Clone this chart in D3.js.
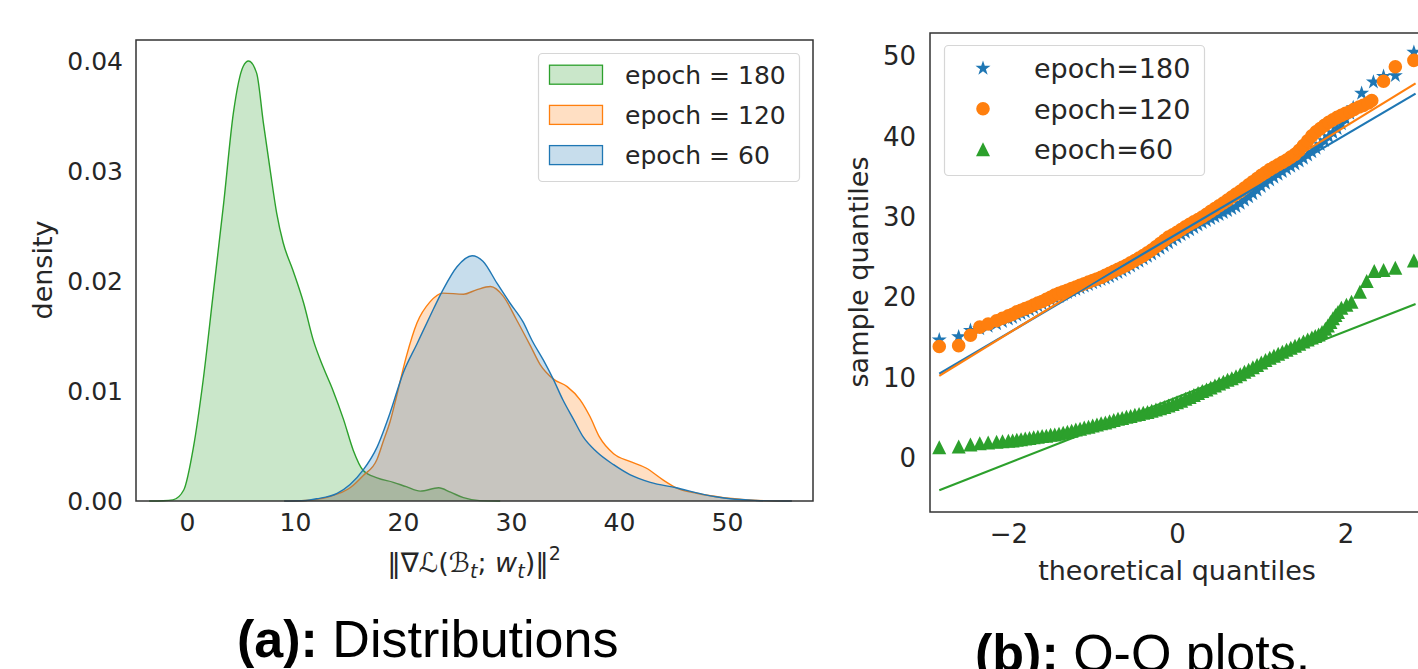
<!DOCTYPE html>
<html>
<head>
<meta charset="utf-8">
<script src="https://cdn.jsdelivr.net/npm/d3@7"></script>
<style>
  body { margin: 0; background: #fff; }
  svg { display: block; font-family: "DejaVu Sans", sans-serif; }
</style>
</head>
<body>
<svg width="1418" height="669"></svg>
<script>
// ---- data ----
// (a) kde curves: [gradient norm, density]
var kde180 = [[-3.5,0],[-2.2,0.00002],[-1.3,0.0001],[-0.3,0.001],[0.6,0.0049],[1.5,0.011],[2.4,0.0186],[3.4,0.0271],[4.3,0.0353],[5.2,0.0395],[5.7,0.0400],[6.45,0.0389],[7.07,0.0344],[7.7,0.0301],[8.3,0.0262],[8.9,0.0235],[9.8,0.021],[10.8,0.018],[11.7,0.0146],[12.6,0.0122],[13.5,0.0101],[14.5,0.0074],[15.4,0.0046],[16.3,0.0028],[17.6,0.0021],[19.1,0.0017],[20.3,0.0013],[21.6,0.0009],[23.3,0.0012],[24.4,0.0008],[25.6,0.0003],[27.1,0.00003],[29,0]];
var kde120 = [[9,0],[11,0.00005],[13.2,0.0004],[15.1,0.0012],[16.3,0.0023],[17.6,0.0038],[18.2,0.0055],[18.8,0.0072],[19.4,0.0095],[20.3,0.0131],[21.3,0.0162],[22.5,0.0181],[23.7,0.0189],[25.6,0.0188],[26.8,0.0192],[28.1,0.0195],[29.3,0.0186],[30.5,0.0165],[31.8,0.0141],[32.7,0.0124],[33.9,0.0111],[35.2,0.0104],[36.4,0.0092],[37.3,0.0077],[38.2,0.0058],[39.5,0.0043],[41.0,0.0036],[42.5,0.003],[44.1,0.0019],[45.3,0.0012],[47.2,0.0007],[49.7,0.0003],[52.1,0.0001],[54.5,0],[56,0]];
var kde60 = [[9,0],[11,0.00005],[12.0,0.0002],[13.9,0.0007],[15.1,0.0015],[16.3,0.0028],[17.6,0.0049],[18.8,0.008],[20.0,0.0116],[21.3,0.0143],[22.5,0.0168],[23.7,0.0192],[25.0,0.0213],[26.4,0.0223],[27.4,0.0218],[28.7,0.0198],[29.9,0.018],[31.1,0.0163],[32.0,0.0145],[33.0,0.0128],[33.9,0.0111],[34.8,0.0092],[35.8,0.0074],[36.7,0.0058],[37.9,0.0045],[39.5,0.0033],[41.0,0.0024],[42.9,0.0017],[45.3,0.0012],[47.8,0.0006],[50.3,0.0002],[52.7,0.00005],[55.2,0],[56,0]];

// (b) q-q points: [theoretical quantile, sample quantile]
var qq180 = [[-2.82,14.7],[-2.59,15.1],[-2.45,15.9],[-2.34,16.1],[-2.24,16.4],[-2.14,16.7],[-2.07,17.0],
  [-2.0,17.3],[-1.95,17.5],[-1.9,17.8],[-1.85,18.0],[-1.8,18.2],[-1.75,18.45],[-1.7,18.7],[-1.65,18.95],[-1.6,19.2],[-1.55,19.45],
  [-1.5,19.7],[-1.45,19.9],[-1.4,20.1],[-1.35,20.35],[-1.3,20.6],[-1.25,20.8],[-1.2,21.0],[-1.15,21.2],[-1.1,21.4],[-1.05,21.6],
  [-1.0,21.8],[-0.95,22.0],[-0.9,22.2],[-0.85,22.4],[-0.8,22.6],[-0.75,22.85],[-0.7,23.1],[-0.65,23.35],[-0.6,23.6],[-0.55,23.9],
  [-0.5,24.2],[-0.45,24.5],[-0.4,24.8],[-0.35,25.1],[-0.3,25.4],[-0.25,25.75],[-0.2,26.1],[-0.15,26.45],[-0.1,26.8],[-0.05,27.15],
  [0.0,27.5],[0.05,27.8],[0.1,28.1],[0.15,28.4],[0.2,28.7],[0.25,29.0],[0.3,29.3],[0.35,29.55],[0.4,29.8],[0.45,30.05],
  [0.5,30.3],[0.55,30.55],[0.6,30.8],[0.65,31.05],[0.7,31.3],[0.75,31.7],[0.8,32.1],[0.85,32.5],[0.9,32.9],[0.95,33.35],
  [1.0,33.8],[1.05,34.2],[1.1,34.6],[1.15,34.95],[1.2,35.3],[1.25,35.65],[1.3,36.0],[1.35,36.3],[1.4,36.6],[1.45,36.95],
  [1.5,37.3],[1.55,37.7],[1.6,38.1],[1.65,38.55],[1.7,39.0],[1.75,39.5],[1.8,40.0],[1.85,40.5],[1.9,41.0],[1.95,41.6],
  [2.0,42.2],[2.05,42.9],[2.09,43.6],[2.19,45.4],[2.33,46.8],[2.45,47.5],[2.59,47.6],[2.81,50.5]];
var qq120 = [[-2.82,13.9],[-2.59,14.0],[-2.45,15.3],[-2.34,16.3],[-2.24,16.7],[-2.14,17.1],[-2.07,17.4],
  [-2.0,17.7],[-1.95,17.9],[-1.9,18.2],[-1.85,18.4],[-1.8,18.6],[-1.75,18.8],[-1.7,19.05],[-1.65,19.3],[-1.6,19.5],[-1.55,19.75],
  [-1.5,20.0],[-1.45,20.3],[-1.4,20.5],[-1.35,20.7],[-1.3,20.9],[-1.25,21.1],[-1.2,21.3],[-1.15,21.5],[-1.1,21.7],[-1.05,21.9],
  [-1.0,22.1],[-0.95,22.3],[-0.9,22.5],[-0.85,22.75],[-0.8,23.0],[-0.75,23.25],[-0.7,23.5],[-0.65,23.75],[-0.6,24.0],[-0.55,24.3],
  [-0.5,24.6],[-0.45,24.9],[-0.4,25.2],[-0.35,25.55],[-0.3,25.9],[-0.25,26.3],[-0.2,26.7],[-0.15,27.1],[-0.1,27.5],[-0.05,27.8],
  [0.0,28.1],[0.05,28.45],[0.1,28.8],[0.15,29.1],[0.2,29.4],[0.25,29.7],[0.3,30.0],[0.35,30.35],[0.4,30.7],[0.45,31.05],
  [0.5,31.4],[0.55,31.75],[0.6,32.1],[0.65,32.5],[0.7,32.85],[0.75,33.2],[0.8,33.6],[0.85,34.0],[0.9,34.4],[0.95,34.8],
  [1.0,35.2],[1.05,35.55],[1.1,35.9],[1.15,36.2],[1.2,36.5],[1.25,36.8],[1.3,37.1],[1.35,37.45],[1.4,37.8],[1.45,38.3],
  [1.5,38.9],[1.55,39.5],[1.6,40.1],[1.65,40.6],[1.7,41.0],[1.75,41.4],[1.8,41.8],[1.85,42.1],[1.9,42.4],[1.95,42.65],
  [2.0,42.9],[2.05,43.1],[2.1,43.4],[2.16,43.7],[2.21,43.9],[2.27,44.2],[2.31,44.5],[2.45,46.9],[2.59,48.7],[2.81,49.5]];
var qq60 = [[-2.82,1.35],[-2.59,1.45],[-2.45,1.7],[-2.34,1.85],[-2.24,1.95],[-2.14,2.05],[-2.07,2.1],
  [-2.0,2.15],[-1.95,2.2],[-1.9,2.3],[-1.85,2.35],[-1.8,2.45],[-1.75,2.5],[-1.7,2.6],[-1.65,2.65],[-1.6,2.75],[-1.55,2.8],
  [-1.5,2.9],[-1.45,2.95],[-1.4,3.05],[-1.35,3.15],[-1.3,3.3],[-1.25,3.4],[-1.2,3.55],[-1.15,3.65],[-1.1,3.8],[-1.05,3.9],
  [-1.0,4.05],[-0.95,4.2],[-0.9,4.35],[-0.85,4.45],[-0.8,4.6],[-0.75,4.75],[-0.7,4.9],[-0.65,5.0],[-0.6,5.15],[-0.55,5.25],
  [-0.5,5.4],[-0.45,5.5],[-0.4,5.65],[-0.35,5.75],[-0.3,5.9],[-0.25,6.05],[-0.2,6.2],[-0.15,6.35],[-0.1,6.55],[-0.05,6.75],
  [0.0,6.95],[0.05,7.15],[0.1,7.4],[0.15,7.6],[0.2,7.85],[0.25,8.1],[0.3,8.35],[0.35,8.55],[0.4,8.8],[0.45,9.05],
  [0.5,9.3],[0.55,9.5],[0.6,9.75],[0.65,9.95],[0.7,10.2],[0.75,10.45],[0.8,10.75],[0.85,11.0],[0.9,11.3],[0.95,11.6],
  [1.0,11.9],[1.05,12.2],[1.1,12.5],[1.15,12.75],[1.2,13.0],[1.25,13.25],[1.3,13.5],[1.35,13.75],[1.4,14.0],[1.45,14.25],
  [1.5,14.5],[1.55,14.75],[1.6,15.0],[1.64,15.2],[1.68,15.4],[1.72,15.7],[1.76,16.1],[1.79,16.5],[1.82,16.95],[1.85,17.4],
  [1.88,17.8],[1.91,18.2],[1.95,18.7],[2.01,19.1],[2.07,19.45],[2.17,20.7],[2.25,22.05],[2.34,23.3],[2.45,23.4],[2.59,23.7],[2.81,24.6]];

// least squares lines [slope, intercept], drawn between these quantiles
var fit180 = [6.17, 27.9];
var fit120 = [6.44, 28.4];
var fit60 = [4.1, 7.58];
var fitRange = [-2.82, 2.83];

var labelsA = ["epoch = 180", "epoch = 120", "epoch = 60"];
var labelsB = ["epoch=180", "epoch=120", "epoch=60"];
var xTicksA = [0, 10, 20, 30, 40, 50];
var yTicksA = [0, 0.01, 0.02, 0.03, 0.04];
var xTicksB = [-2, 0, 2];
var yTicksB = [0, 10, 20, 30, 40, 50];

var blue = "#1f77b4", orange = "#ff7f0e", green = "#2ca02c";
var ink = "#262626", spine = "#333333";

var svg = d3.select("svg");

// ================= (a) distributions =================
var xA = d3.scaleLinear().domain([-4.72, 57.96]).range([136, 813]);
var yA = d3.scaleLinear().domain([0, 0.04191]).range([501, 40]);

var gA = svg.append("g");
var kdes = [
  {data: kde180, color: green},
  {data: kde120, color: orange},
  {data: kde60, color: blue}
];
var area = d3.area()
  .x(function (d) { return xA(d[0]); })
  .y0(yA(0))
  .y1(function (d) { return yA(d[1]); })
  .curve(d3.curveMonotoneX);
var line = d3.line()
  .x(function (d) { return xA(d[0]); })
  .y(function (d) { return yA(d[1]); })
  .curve(d3.curveMonotoneX);

kdes.forEach(function (k) {
  gA.append("path").attr("d", area(k.data))
    .attr("fill", k.color).attr("fill-opacity", 0.25);
  gA.append("path").attr("d", line(k.data))
    .attr("fill", "none").attr("stroke", k.color).attr("stroke-width", 1.4);
});

var axA_x = gA.append("g").attr("transform", "translate(0,501)")
  .call(d3.axisBottom(xA).tickValues(xTicksA).tickSize(0).tickPadding(12));
var axA_y = gA.append("g").attr("transform", "translate(136,0)")
  .call(d3.axisLeft(yA).tickValues(yTicksA).tickFormat(d3.format(".2f")).tickSize(0).tickPadding(13));
[axA_x, axA_y].forEach(function (a) {
  a.select(".domain").remove();
  a.selectAll("text").attr("font-size", 25).attr("fill", ink).attr("font-family", "DejaVu Sans");
});

gA.append("rect").attr("x", 136).attr("y", 40).attr("width", 677).attr("height", 461)
  .attr("fill", "none").attr("stroke", spine).attr("stroke-width", 1.5);

gA.append("text").attr("transform", "translate(52,270) rotate(-90)")
  .attr("text-anchor", "middle").attr("font-size", 27).attr("fill", ink).text("density");

// x label: ‖∇ℒ(ℬ_t; w_t)‖²
var xl = gA.append("text").attr("x", 474).attr("y", 572).attr("text-anchor", "middle")
  .attr("font-size", 27).attr("fill", ink);
xl.append("tspan").text("\u2016\u2207\u2112(\u212C");
xl.append("tspan").attr("font-style", "italic").attr("font-size", 19).attr("dy", 6).text("t");
xl.append("tspan").attr("dy", -6).text("; ");
xl.append("tspan").attr("font-style", "italic").text("w");
xl.append("tspan").attr("font-style", "italic").attr("font-size", 19).attr("dy", 6).text("t");
xl.append("tspan").attr("dy", -6).text(")\u2016");
xl.append("tspan").attr("font-size", 19).attr("dy", -12).text("2");

// legend (a)
var legA = gA.append("g");
legA.append("rect").attr("x", 538.5).attr("y", 53.5).attr("width", 261).attr("height", 128).attr("rx", 4)
  .attr("fill", "#fff").attr("fill-opacity", 0.8).attr("stroke", "#d6d6d6").attr("stroke-width", 1.2);
[green, orange, blue].forEach(function (c, i) {
  var cy = 74.7 + i * 40.2;
  legA.append("rect").attr("x", 549.5).attr("y", cy - 9.5).attr("width", 53).attr("height", 19)
    .attr("fill", c).attr("fill-opacity", 0.25).attr("stroke", c).attr("stroke-width", 1.3);
  legA.append("text").attr("x", 625).attr("y", cy).attr("dy", "0.36em")
    .attr("font-size", 25).attr("fill", ink).text(labelsA[i]);
});

svg.append("text").attr("x", 237).attr("y", 657).attr("font-family", "Liberation Sans, Arial, sans-serif")
  .attr("font-size", 52).attr("fill", "#000")
  .call(function (t) {
    t.append("tspan").attr("font-weight", "bold").text("(a):");
    t.append("tspan").text(" Distributions");
  });

// ================= (b) Q-Q plots =================
var xB = d3.scaleLinear().domain([-2.93, 2.93]).range([930, 1424]);
var yB = d3.scaleLinear().domain([-6.7, 52.9]).range([512, 33]);

var gB = svg.append("g");
gB.append("clipPath").attr("id", "clipB").append("rect")
  .attr("x", 930).attr("y", 33).attr("width", 494).attr("height", 479);
var plotB = gB.append("g").attr("clip-path", "url(#clipB)");

var triangle = {
  draw: function (ctx, size) {
    var h = Math.sqrt(size);
    ctx.moveTo(0, -h / 2);
    ctx.lineTo(h / 2, h / 2);
    ctx.lineTo(-h / 2, h / 2);
    ctx.closePath();
  }
};
var starPath = d3.symbol().type(d3.symbolStar).size(70)();
var circlePath = d3.symbol().type(d3.symbolCircle).size(Math.PI * 6.8 * 6.8)();
var triPath = d3.symbol().type(triangle).size(14 * 14)();

var series = [
  {data: qq180, fit: fit180, color: blue, path: starPath},
  {data: qq120, fit: fit120, color: orange, path: circlePath},
  {data: qq60, fit: fit60, color: green, path: triPath}
];

series.forEach(function (s) {
  plotB.append("g").selectAll("path").data(s.data).enter().append("path")
    .attr("d", s.path)
    .attr("transform", function (d) { return "translate(" + xB(d[0]) + "," + yB(d[1]) + ")"; })
    .attr("fill", s.color);
});
series.forEach(function (s) {
  plotB.append("line")
    .attr("x1", xB(fitRange[0])).attr("y1", yB(s.fit[0] * fitRange[0] + s.fit[1]))
    .attr("x2", xB(fitRange[1])).attr("y2", yB(s.fit[0] * fitRange[1] + s.fit[1]))
    .attr("stroke", s.color).attr("stroke-width", 2.2);
});

var axB_x = gB.append("g").attr("transform", "translate(0,512)")
  .call(d3.axisBottom(xB).tickValues(xTicksB).tickFormat(d3.format("d")).tickSize(0).tickPadding(13));
var axB_y = gB.append("g").attr("transform", "translate(930,0)")
  .call(d3.axisLeft(yB).tickValues(yTicksB).tickFormat(d3.format("d")).tickSize(0).tickPadding(14));
[axB_x, axB_y].forEach(function (a) {
  a.select(".domain").remove();
  a.selectAll("text").attr("font-size", 26).attr("fill", ink).attr("font-family", "DejaVu Sans");
});

gB.append("rect").attr("x", 930).attr("y", 33).attr("width", 494).attr("height", 479)
  .attr("fill", "none").attr("stroke", spine).attr("stroke-width", 1.5);

gB.append("text").attr("transform", "translate(868,272) rotate(-90)")
  .attr("text-anchor", "middle").attr("font-size", 27).attr("fill", ink).text("sample quantiles");
gB.append("text").attr("x", 1177).attr("y", 580).attr("text-anchor", "middle")
  .attr("font-size", 27).attr("fill", ink).text("theoretical quantiles");

// legend (b)
var legB = gB.append("g");
legB.append("rect").attr("x", 944.5).attr("y", 45.5).attr("width", 260).attr("height", 130).attr("rx", 4)
  .attr("fill", "#fff").attr("fill-opacity", 0.8).attr("stroke", "#d6d6d6").attr("stroke-width", 1.2);
series.forEach(function (s, i) {
  var cy = 68.3 + i * 40.5;
  legB.append("path").attr("d", s.path).attr("transform", "translate(983," + cy + ")").attr("fill", s.color);
  legB.append("text").attr("x", 1034).attr("y", cy).attr("dy", "0.36em")
    .attr("font-size", 27).attr("fill", ink).text(labelsB[i]);
});

svg.append("text").attr("x", 975).attr("y", 671).attr("font-family", "Liberation Sans, Arial, sans-serif")
  .attr("font-size", 52).attr("fill", "#000")
  .call(function (t) {
    t.append("tspan").attr("font-weight", "bold").text("(b):");
    t.append("tspan").text(" Q-Q plots.");
  });
</script>
</body>
</html>
